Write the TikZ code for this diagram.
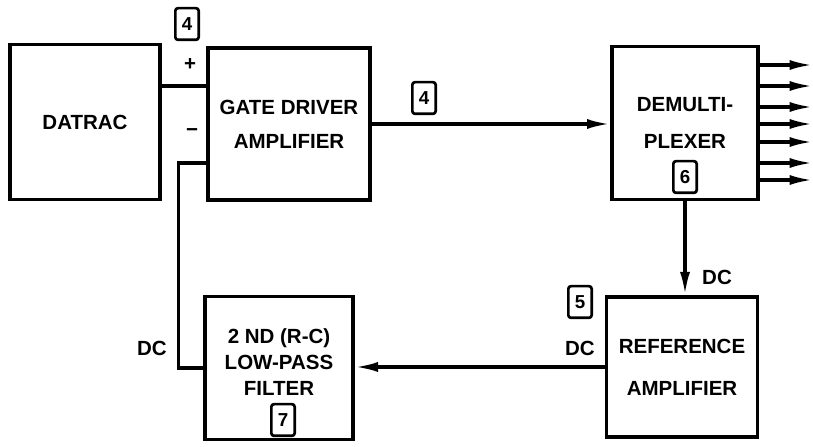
\documentclass[tikz,border=0pt]{standalone}
\usepackage{fontspec}
\setmainfont{Liberation Sans}
\usetikzlibrary{arrows.meta,positioning}

\begin{document}
\begin{tikzpicture}[x=0.3mm, y=-0.3mm, line width=1mm,
				every node/.style={font=\fontsize{17.5}{26}\selectfont\bfseries},
				leading/.style={font=\fontsize{17.5}{#1}\selectfont\bfseries},
				blk/.style={draw, rectangle, align=center, inner sep=0pt},
				tag/.style={draw, line width=0.8mm, rounded corners=0.8mm, inner sep=0.5pt,
					minimum width=7mm, minimum height=9.5mm, font=\fontsize{16}{16}\selectfont\bfseries},
				sig/.style={-{Latex[length=7mm,width=3mm]}}
				]
				\useasboundingbox (0,0) rectangle (813,447);
				% blocks
				\node[blk, minimum width=45mm, minimum height=46.5mm] (datrac) at (85,122) {DATRAC};
				\node[blk, leading=29, minimum width=48.6mm, minimum height=45.6mm] (gate) at (289,124) {GATE DRIVER\\AMPLIFIER};
				\node[blk, leading=31, minimum width=43.8mm, minimum height=45.9mm] (demux) at (685,123) {DEMULTI-\\PLEXER};
				\node[blk, leading=36, minimum width=45.3mm, minimum height=42mm] (refamp) at (682,367) {REFERENCE\\AMPLIFIER};
				\node[blk, minimum width=44.4mm, minimum height=42.9mm] (filter) at (279,368) {};
				\node[leading=22.5, align=center] (filtertxt) at (279,362) {2 ND (R-C)\\LOW-PASS\\FILTER};
				% numbered tags
				\node[tag] (tagin) at (187,24) {4};
				\node[tag] (tagmid) at (424,98) {4};
				\node[tag] (tagdmx) at (685,177) {6};
				\node[tag] (tagref) at (580,302) {5};
				\node[tag] (tagflt) at (283,420) {7};
				% signal lines
				\draw (datrac.east |- 0,86) -- (gate.west |- 0,86);
				\draw[sig] (gate.east) -- (gate.east -| demux.west);
				\foreach \y [count=\i] in {65,86,107,124,142,163,180} {
					\coordinate (out\i) at (813,\y);
					\draw[sig] (demux.east |- out\i) -- (out\i);
				}
				\draw[sig] (demux.south) -- (demux.south |- refamp.north);
				\draw[sig] (refamp.west) -- (refamp.west -| filter.east);
				\draw (filter.west) -- ++(-25,0) |- (gate.west |- 0,163);
				% labels
				\node (plus) at (190,64) {+};
				\node (minus) at (192,133) {−};
				\node (dcfb) at (152,348) {DC};
				\node (dcref) at (580,348) {DC};
				\node (dcdmx) at (717,277) {DC};
			\end{tikzpicture}
\end{document}
